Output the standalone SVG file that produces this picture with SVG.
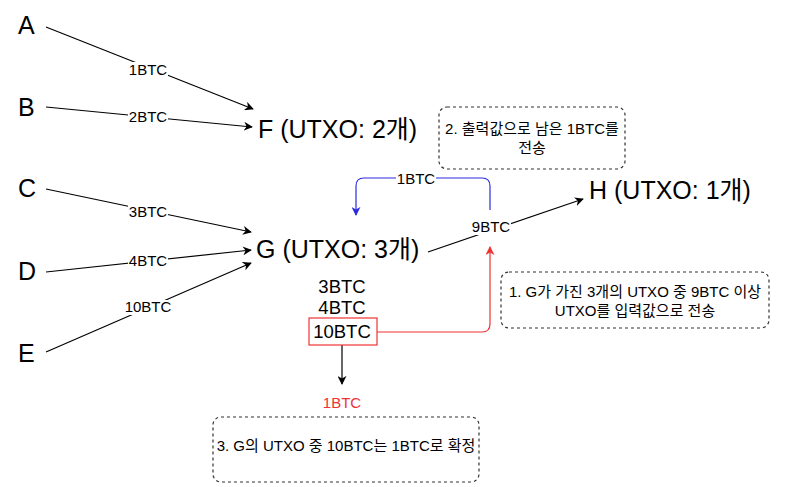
<svg xmlns="http://www.w3.org/2000/svg" width="800" height="487" viewBox="0 0 800 487">
<defs>
<marker id="ab" viewBox="0 0 10 10" refX="9" refY="5" markerWidth="9" markerHeight="9" markerUnits="userSpaceOnUse" orient="auto"><path d="M0,0 L10,5 L0,10 L3,5 Z" fill="#000"/></marker>
<marker id="abl" viewBox="0 0 10 10" refX="9" refY="5" markerWidth="9" markerHeight="9" markerUnits="userSpaceOnUse" orient="auto"><path d="M0,0 L10,5 L0,10 L3,5 Z" fill="#2b2bdf"/></marker>
<marker id="ar" viewBox="0 0 10 10" refX="9" refY="5" markerWidth="9" markerHeight="9" markerUnits="userSpaceOnUse" orient="auto"><path d="M0,0 L10,5 L0,10 L3,5 Z" fill="#ee3333"/></marker>
</defs>
<style>
text{font-family:"Liberation Sans","Noto Sans CJK KR",sans-serif;fill:#000}
.big{font-size:25px}
.mid{font-size:18.5px;text-anchor:middle}
.lbl{font-size:15px;text-anchor:middle}
.note{font-size:15px;text-anchor:middle}
.e{fill:none;stroke:#000;stroke-width:1.2}
.bg{fill:#fff;stroke:none}
.dash{fill:#fff;stroke:#333;stroke-width:1.2;stroke-dasharray:3,3}
</style>
<rect width="800" height="487" fill="#fff"/>
<g id="connectors">
<line class="e" x1="46" y1="27" x2="253" y2="109" marker-end="url(#ab)"/>
<line class="e" x1="46" y1="107" x2="252" y2="127" marker-end="url(#ab)"/>
<line class="e" x1="46" y1="189" x2="251" y2="232" marker-end="url(#ab)"/>
<line class="e" x1="46" y1="272" x2="251" y2="250" marker-end="url(#ab)"/>
<line class="e" x1="46" y1="352" x2="251" y2="263" marker-end="url(#ab)"/>
<line class="e" x1="428" y1="252" x2="583" y2="199" marker-end="url(#ab)"/>
<path d="M490,210 V186 Q490,178 482,178 H364 Q356,178 356,186 V215" fill="none" stroke="#2b2bdf" stroke-width="1.2" marker-end="url(#abl)"/>
<path d="M377,332 H482 Q490,332 490,324 V247" fill="none" stroke="#ee3333" stroke-width="1.2" marker-end="url(#ar)"/>
<line class="e" x1="342" y1="345" x2="342" y2="384" marker-end="url(#ab)"/>
<rect class="bg" x="128" y="62" width="40" height="15"/><text class="lbl" x="148" y="75">1BTC</text>
<rect class="bg" x="128" y="110" width="40" height="15"/><text class="lbl" x="148" y="122">2BTC</text>
<rect class="bg" x="128" y="205" width="40" height="15"/><text class="lbl" x="148" y="217">3BTC</text>
<rect class="bg" x="128" y="254" width="40" height="15"/><text class="lbl" x="148" y="266">4BTC</text>
<rect class="bg" x="124" y="300" width="48" height="15"/><text class="lbl" x="148" y="312">10BTC</text>
<rect class="bg" x="471" y="220" width="40" height="15"/><text class="lbl" x="491" y="232">9BTC</text>
<rect class="bg" x="396" y="172" width="40" height="15"/><text class="lbl" x="416" y="184">1BTC</text>
</g>
<g id="A"><text class="big" x="18" y="34">A</text></g>
<g id="B"><text class="big" x="18" y="116">B</text></g>
<g id="C"><text class="big" x="18" y="197">C</text></g>
<g id="D"><text class="big" x="18" y="280">D</text></g>
<g id="E"><text class="big" x="18" y="362">E</text></g>
<g id="F"><text class="big" x="258" y="138">F (UTXO: 2개)</text></g>
<g id="G"><text class="big" x="256" y="258">G (UTXO: 3개)</text></g>
<g id="H"><text class="big" x="589" y="199">H (UTXO: 1개)</text></g>
<g id="utxos">
<text class="mid" x="342" y="293">3BTC</text>
<text class="mid" x="342" y="314">4BTC</text>
<rect x="309" y="318" width="68" height="27" fill="none" stroke="#ee3333" stroke-width="1.2"/>
<text class="mid" x="342" y="338">10BTC</text>
</g>
<g id="result"><text class="lbl" x="342" y="408" style="fill:#ee3333">1BTC</text></g>
<g id="note1">
<rect class="dash" x="501" y="272" width="268" height="56" rx="8"/>
<text class="note" x="635" y="297">1. G가 가진 3개의 UTXO 중 9BTC 이상</text>
<text class="note" x="635" y="316">UTXO를 입력값으로 전송</text>
</g>
<g id="note2">
<rect class="dash" x="439" y="107" width="186" height="62" rx="8"/>
<text class="note" x="532" y="134">2. 출력값으로 남은 1BTC를</text>
<text class="note" x="532" y="153">전송</text>
</g>
<g id="note3">
<rect class="dash" x="213" y="417" width="266" height="65" rx="8"/>
<text class="note" x="346" y="451">3. G의 UTXO 중 10BTC는 1BTC로 확정</text>
</g>
</svg>
